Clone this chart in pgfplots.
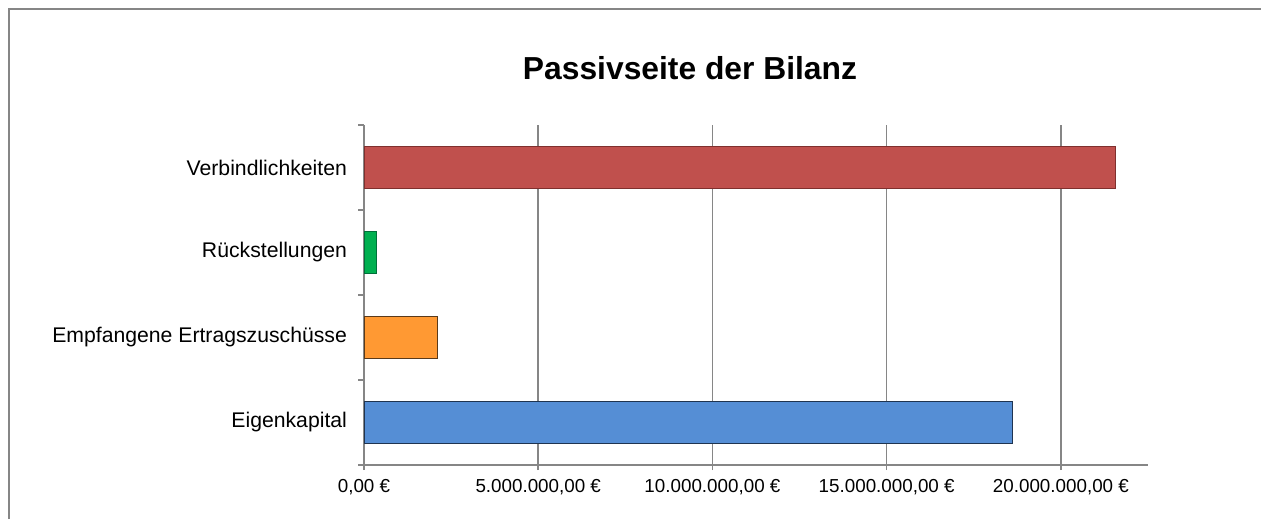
\documentclass[border=0pt]{standalone}
\usepackage{fontspec}
\setmainfont{Liberation Sans}
\usepackage{pgfplots}
\pgfplotsset{compat=1.18}
\definecolor{axgray}{HTML}{868686}
\definecolor{cred}{HTML}{C0504D}
\definecolor{credE}{HTML}{7F302E}
\definecolor{cgreen}{HTML}{00B050}
\definecolor{cgreenE}{HTML}{00703A}
\definecolor{corange}{HTML}{FF9933}
\definecolor{corangeE}{HTML}{5A3A1A}
\definecolor{cblue}{HTML}{558ED5}
\definecolor{cblueE}{HTML}{1F3450}
\begin{document}
\begin{tikzpicture}[x=0.5pt,y=0.5pt]
\useasboundingbox (0,0) rectangle (1261,519);
\draw[color=axgray, line width=0.6pt] (9,0) -- (9,510) -- (1261,510);
\node[font=\bfseries\fontsize{15.9}{18}\selectfont, anchor=base] at (690,439) {Passivseite der Bilanz};
\begin{axis}[
  at={(182pt,27pt)}, anchor=south west, scale only axis,
  width=392pt, height=170pt,
  xmin=0, xmax=22.5e6, ymin=-0.5, ymax=3.5,
  axis x line*=bottom, axis y line*=left,
  axis line style={color=axgray, line width=1pt},
  xtick={0,5e6,10e6,15e6,20e6},
  xticklabels={{0,00 €},{5.000.000,00 €},{10.000.000,00 €},{15.000.000,00 €},{20.000.000,00 €}},
  scaled x ticks=false,
  xticklabel style={font=\fontsize{9.4}{11}\selectfont, yshift=-1pt},
  ytick={0,1,2,3},
  yticklabels={Eigenkapital, Empfangene Ertragszuschüsse, Rückstellungen, Verbindlichkeiten},
  yticklabel style={font=\fontsize{10.6}{12}\selectfont, xshift=-2.5pt},
  ytick style={draw=none},
  extra y ticks={-0.5,0.5,1.5,2.5,3.5},
  extra y tick labels={},
  extra y tick style={ytick style={draw=axgray}, major tick length=3pt, tick align=outside, tick style={color=axgray, line width=1pt}},
  tick align=outside,
  major tick length=2.5pt,
  xtick style={color=axgray, line width=0.8pt},
  xmajorgrids,
  grid style={color=axgray, line width=0.8pt},
  xbar, bar width=0.5,
]
\addplot[bar shift=0pt, fill=cblue, draw=cblueE, line width=0.5pt] coordinates {(18.60e6,0)};
\addplot[bar shift=0pt, fill=corange, draw=corangeE, line width=0.5pt] coordinates {(2.10e6,1)};
\addplot[bar shift=0pt, fill=cgreen, draw=cgreenE, line width=0.5pt] coordinates {(0.364e6,2)};
\addplot[bar shift=0pt, fill=cred, draw=credE, line width=0.5pt] coordinates {(21.57e6,3)};
\end{axis}
\end{tikzpicture}
\end{document}
